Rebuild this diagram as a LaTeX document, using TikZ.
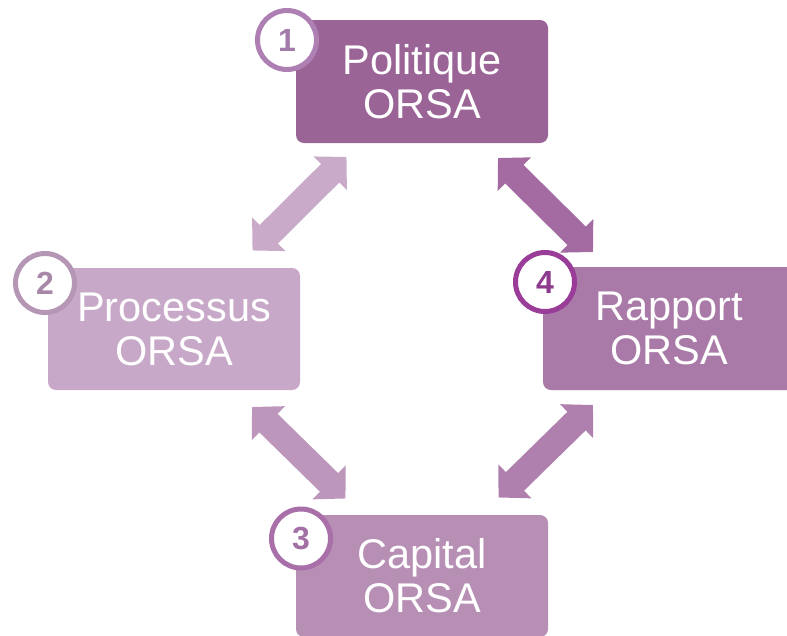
\documentclass[tikz,border=0pt]{standalone}
\usepackage{fontspec}
\setmainfont{Liberation Sans}
\usetikzlibrary{arrows.meta}
\definecolor{boxA}{HTML}{9B6497}
\definecolor{boxB}{HTML}{C8A8C8}
\definecolor{boxC}{HTML}{B78FB5}
\definecolor{boxD}{HTML}{A97AA7}
\definecolor{arrAB}{HTML}{C9AAC8}
\definecolor{arrAD}{HTML}{A36BA1}
\definecolor{arrBC}{HTML}{BC96BB}
\definecolor{arrCD}{HTML}{AF80AD}
\definecolor{ringA}{HTML}{AE7FB3}
\definecolor{ringB}{HTML}{B597B5}
\definecolor{ringC}{HTML}{A86FA9}
\definecolor{ringD}{HTML}{9A3D99}
\definecolor{numA}{HTML}{A27BAA}
\definecolor{numB}{HTML}{A888A8}
\definecolor{numC}{HTML}{A270A5}
\definecolor{numD}{HTML}{8E3A8E}
\tikzset{
  stagebox/.style={rectangle, rounded corners=8pt, minimum width=252pt, minimum height=122pt,
    inner sep=0pt, align=center, text=white, font=\fontsize{41.5}{44}\selectfont},
  numring/.style={circle, draw=#1, line width=5pt, fill=white, minimum size=59pt, inner sep=0pt,
    font=\fontsize{32}{32}\selectfont\bfseries},
  blockarrow/.style={line width=26pt, draw=#1,
    {Triangle[length=23pt 0 0, width=46pt 0 0]}-{Triangle[length=23pt 0 0, width=46pt 0 0]}}
}
\begin{document}
\begin{tikzpicture}[x=1pt,y=-1pt]
\useasboundingbox (0,0) rectangle (787,635);
\clip (0,0) rectangle (787,635);
% arrow end points
\coordinate (a1) at (252.5,250.5);
\coordinate (a2) at (346.5,157);
\coordinate (b1) at (498,158);
\coordinate (b2) at (593,252);
\coordinate (c1) at (252,407);
\coordinate (c2) at (345.5,498.5);
\coordinate (d1) at (593,405);
\coordinate (d2) at (498.5,497.5);
\draw[blockarrow=arrAB] (a1) -- (a2);
\draw[blockarrow=arrAD] (b1) -- (b2);
\draw[blockarrow=arrBC] (c1) -- (c2);
\draw[blockarrow=arrCD] (d1) -- (d2);
% boxes
\node[stagebox, fill=boxA, minimum height=123pt] (pol) at (422,81.5) {Politique\\ORSA};
\node[stagebox, fill=boxB] (pro) at (174,329) {Processus\\ORSA};
\node[stagebox, fill=boxD, minimum height=123pt] (rap) at (669,328.5) {Rapport\\ORSA};
\node[stagebox, fill=boxC] (cap) at (422,576) {Capital\\ORSA};
% numbered rings
\node[numring=ringA, text=numA] (n1) at (287,40) {1};
\node[numring=ringB, text=numB] (n2) at (45,283) {2};
\node[numring=ringD, text=numD] (n4) at (545,282) {4};
\node[numring=ringC, text=numC] (n3) at (301,538.5) {3};
\end{tikzpicture}
\end{document}
